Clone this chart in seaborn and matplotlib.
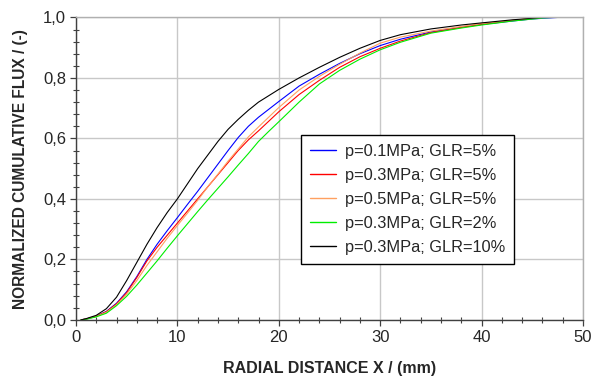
import numpy as np
import pandas as pd
import matplotlib
matplotlib.use("Agg")
import matplotlib.pyplot as plt
from matplotlib.ticker import MultipleLocator, FuncFormatter
import seaborn as sns

# ---- data ----
x_black = [0.5, 1, 2, 3, 4, 5, 6, 7, 8, 9, 10, 11, 12, 13, 14, 15, 16, 17, 18, 20, 22, 24, 26, 28, 30, 32, 35, 38, 40, 43, 46]
y_black = [0, 0.004, 0.015, 0.037, 0.075, 0.13, 0.19, 0.25, 0.305, 0.355, 0.40, 0.45, 0.50, 0.545, 0.59, 0.63, 0.663, 0.693, 0.72, 0.762, 0.80, 0.835, 0.868, 0.898, 0.924, 0.943, 0.962, 0.975, 0.982, 0.992, 1.0]

x_blue = [0.5, 1, 2, 3, 4, 5, 6, 7, 8, 9, 10, 11, 12, 13, 14, 15, 16, 17, 18, 20, 22, 24, 26, 28, 30, 32, 35, 38, 40, 43, 45, 47.5]
y_blue = [0, 0.003, 0.012, 0.028, 0.055, 0.093, 0.143, 0.20, 0.25, 0.295, 0.338, 0.382, 0.425, 0.47, 0.515, 0.56, 0.603, 0.64, 0.67, 0.722, 0.773, 0.812, 0.848, 0.88, 0.907, 0.928, 0.952, 0.968, 0.977, 0.988, 0.995, 1.0]

x_red = [0.5, 1, 2, 3, 4, 5, 6, 7, 8, 9, 10, 11, 12, 13, 14, 15, 16, 17, 18, 20, 22, 24, 26, 28, 30, 32, 35, 38, 40, 43, 46]
y_red = [0, 0.003, 0.012, 0.027, 0.053, 0.09, 0.14, 0.195, 0.24, 0.28, 0.32, 0.36, 0.40, 0.44, 0.48, 0.52, 0.56, 0.595, 0.625, 0.688, 0.745, 0.792, 0.835, 0.87, 0.898, 0.922, 0.95, 0.967, 0.977, 0.99, 1.0]

x_orange = [0.5, 1, 2, 3, 4, 5, 6, 7, 8, 9, 10, 11, 12, 13, 14, 15, 16, 17, 18, 20, 22, 24, 26, 28, 30, 32, 35, 38, 40, 43, 46]
y_orange = [0, 0.003, 0.011, 0.025, 0.05, 0.085, 0.13, 0.18, 0.225, 0.27, 0.312, 0.353, 0.395, 0.44, 0.482, 0.525, 0.565, 0.605, 0.638, 0.702, 0.76, 0.805, 0.845, 0.882, 0.915, 0.935, 0.955, 0.97, 0.98, 0.99, 1.0]

x_green = [0.5, 1, 2, 3, 4, 5, 6, 7, 8, 9, 10, 11, 12, 13, 14, 15, 16, 17, 18, 19, 20, 22, 24, 26, 28, 30, 32, 35, 38, 40, 43, 46, 47]
y_green = [0, 0.002, 0.01, 0.022, 0.047, 0.078, 0.115, 0.155, 0.195, 0.237, 0.278, 0.318, 0.358, 0.397, 0.435, 0.473, 0.512, 0.55, 0.59, 0.623, 0.655, 0.72, 0.78, 0.825, 0.862, 0.893, 0.918, 0.948, 0.965, 0.975, 0.988, 0.998, 1.0]

labels = ["p=0.1MPa; GLR=5%", "p=0.3MPa; GLR=5%", "p=0.5MPa; GLR=5%",
          "p=0.3MPa; GLR=2%", "p=0.3MPa; GLR=10%"]
colors = ["#0000ff", "#ff0000", "#ffa060", "#00ee00", "#000000"]

series = [(x_blue, y_blue), (x_red, y_red), (x_orange, y_orange),
          (x_green, y_green), (x_black, y_black)]

frames = []
for lab, (xs, ys) in zip(labels, series):
    frames.append(pd.DataFrame({"x": xs, "y": ys, "series": lab}))
df = pd.concat(frames, ignore_index=True)

# ---- style ----
sns.set_theme(style="ticks")
plt.rcParams["font.family"] = ["Liberation Sans", "DejaVu Sans"]

fig = plt.figure(figsize=(5.98, 3.79), dpi=100)
ax = fig.add_axes([0.127, 0.156, 0.848, 0.798])

sns.lineplot(data=df, x="x", y="y", hue="series", hue_order=labels,
             palette=dict(zip(labels, colors)), sort=False,
             estimator=None, linewidth=0.8, ax=ax)

ax.set_xlim(0, 50)
ax.set_ylim(0, 1.0)
ax.xaxis.set_major_locator(MultipleLocator(10))
ax.xaxis.set_minor_locator(MultipleLocator(2))
ax.yaxis.set_major_locator(MultipleLocator(0.2))
ax.yaxis.set_minor_locator(MultipleLocator(0.04))
ax.yaxis.set_major_formatter(FuncFormatter(lambda v, p: f"{v:.1f}".replace(".", ",")))

ax.grid(True, which="major", color="#c8c8c8", linewidth=1.0)
ax.set_axisbelow(True)

ax.tick_params(which="major", direction="out", length=4, width=0.9,
               color="#404040", labelsize=12, pad=3)
ax.tick_params(which="minor", direction="inout", length=4, width=0.8,
               color="#404040")
ax.tick_params(axis="y", which="both", right=False)
ax.tick_params(axis="x", which="both", top=False)

for side in ["left", "bottom"]:
    ax.spines[side].set_color("#404040")
    ax.spines[side].set_linewidth(1.0)
for side in ["top", "right"]:
    ax.spines[side].set_color("#b0b0b0")
    ax.spines[side].set_linewidth(1.0)

ax.set_xlabel("RADIAL DISTANCE X / (mm)", fontsize=11.5, fontweight="bold", labelpad=12)
ax.set_ylabel("NORMALIZED CUMULATIVE FLUX / (-)", fontsize=11.2, fontweight="bold", labelpad=11)

leg = ax.legend(loc="upper left", bbox_to_anchor=(0.443, 0.612), borderaxespad=0,
                frameon=True, fancybox=False, fontsize=11.8, handlelength=1.6,
                handletextpad=0.55, labelspacing=0.55, borderpad=0.55, title=None)
leg.get_frame().set_edgecolor("#000000")
leg.get_frame().set_linewidth(1.0)
leg.get_frame().set_facecolor("white")
leg.get_frame().set_alpha(1.0)
for line in leg.get_lines():
    line.set_linewidth(1.0)

fig.savefig("out.png", dpi=100)
